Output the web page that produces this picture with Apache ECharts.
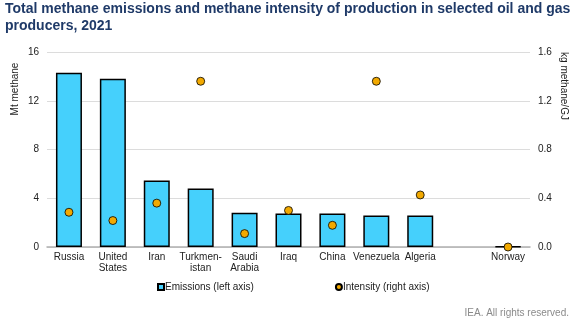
<!DOCTYPE html>
<html>
<head>
<meta charset="utf-8">
<script src="https://cdn.jsdelivr.net/npm/echarts@6/dist/echarts.min.js"></script>
<style>
html,body{margin:0;padding:0;background:#fff;}
#c{width:577px;height:322px;}
</style>
</head>
<body>
<div id="c"></div>
<script>
const categories = ['Russia', 'United\nStates', 'Iran', 'Turkmen-\nistan', 'Saudi\nArabia', 'Iraq', 'China', 'Venezuela', 'Algeria', '', 'Norway'];
const emissions = [14.3, 13.8, 5.45, 4.8, 2.82, 2.74, 2.74, 2.58, 2.58, null, 0.05];
const intensity = [0.285, 0.217, 0.36, 1.36, 0.11, 0.30, 0.178, 1.36, 0.427, null, 0.0];
const leftTicks = [0, 4, 8, 12, 16];
const rightTicks = [0, 0.4, 0.8, 1.2, 1.6];

const chart = echarts.init(document.getElementById('c'), null, {renderer: 'canvas'});
const font = 'Liberation Sans, Arial, sans-serif';
chart.setOption({
  animation: false,
  backgroundColor: '#fff',
  textStyle: {fontFamily: font},
  title: {
    text: 'Total methane emissions and methane intensity of production in selected oil and gas\nproducers, 2021',
    left: 5, top: 1, padding: 0,
    textStyle: {fontFamily: font, fontSize: 14, fontWeight: 'bold', color: '#1f3a68', lineHeight: 17}
  },
  grid: {left: 47, right: 47, top: 52, bottom: 75, containLabel: false},
  legend: {
    top: 282, left: 157, padding: 0,
    itemWidth: 6, itemHeight: 6, itemGap: 81,
    textStyle: {fontFamily: font, fontSize: 10, color: '#222', padding: [0, 0, 0, -4]},
    data: [
      {name: 'Emissions (left axis)', icon: 'rect'},
      {name: 'Intensity (right axis)', icon: 'circle'}
    ]
  },
  xAxis: {
    type: 'category',
    data: categories,
    axisTick: {show: false},
    axisLine: {lineStyle: {color: '#b0b0b0', width: 1.5}},
    axisLabel: {fontFamily: font, fontSize: 10, color: '#222', interval: 0, lineHeight: 11, margin: 5}
  },
  yAxis: [
    {
      type: 'value', min: 0, max: 16, interval: 4,
      axisLabel: {fontFamily: font, fontSize: 10, color: '#222', margin: 8,
        formatter: v => leftTicks.includes(v) ? String(v) : ''},
      splitLine: {lineStyle: {color: '#dcdcdc', width: 1}},
      axisLine: {show: false}, axisTick: {show: false}
    },
    {
      type: 'value', min: 0, max: 1.6, interval: 0.4,
      axisLabel: {fontFamily: font, fontSize: 10, color: '#222', margin: 8,
        formatter: v => rightTicks.some(t => Math.abs(t - v) < 1e-9) ? v.toFixed(1) : ''},
      splitLine: {show: false},
      axisLine: {show: false}, axisTick: {show: false}
    }
  ],
  series: [
    {
      name: 'Emissions (left axis)',
      type: 'bar',
      yAxisIndex: 0,
      data: emissions,
      barWidth: 26,
      itemStyle: {color: '#45d0fc', borderColor: '#000', borderWidth: 1.5}
    },
    {
      name: 'Intensity (right axis)',
      type: 'scatter',
      yAxisIndex: 1,
      data: intensity,
      symbol: 'circle',
      symbolSize: 8,
      itemStyle: {color: '#f2a900', borderColor: '#000', borderWidth: 0.8, opacity: 1},
      z: 5
    }
  ],
  graphic: [
    {type: 'text', x: 15, y: 89, rotation: Math.PI / 2,
      style: {text: 'Mt methane', font: '10px ' + font, fill: '#222', textAlign: 'center', textVerticalAlign: 'middle'}},
    {type: 'text', x: 564, y: 86, rotation: -Math.PI / 2,
      style: {text: 'kg methane/GJ', font: '10px ' + font, fill: '#222', textAlign: 'center', textVerticalAlign: 'middle'}},
    {type: 'text', right: 8, top: 308,
      style: {text: 'IEA. All rights reserved.', font: '10px ' + font, fill: '#8a8a8a'}}
  ]
});
</script>
</body>
</html>
